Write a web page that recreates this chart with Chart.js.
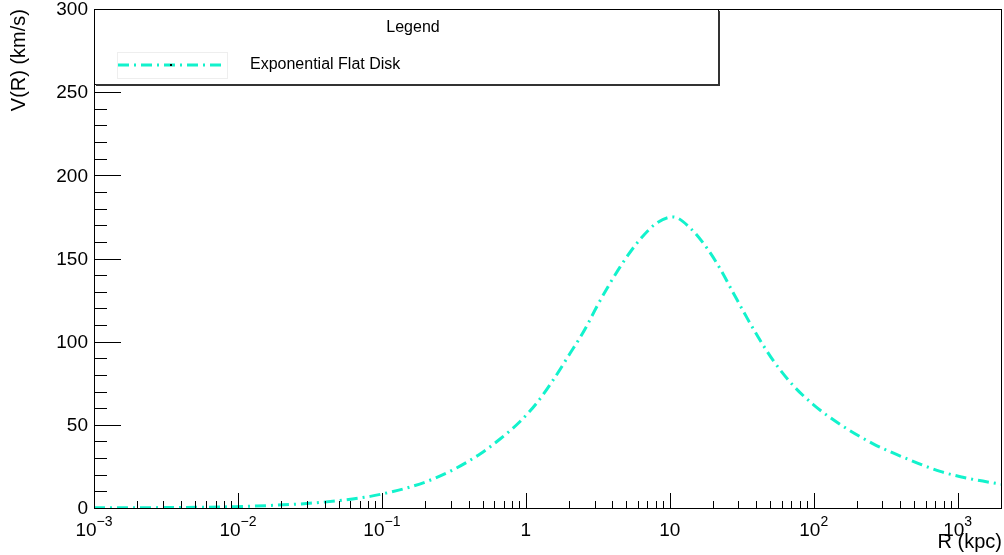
<!DOCTYPE html>
<html>
<head>
<meta charset="utf-8">
<script src="https://cdn.jsdelivr.net/npm/chart.js@4"></script>
<style>
  html, body { margin: 0; padding: 0; background: #ffffff; }
  #wrap { width: 1004px; height: 555px; }
</style>
</head>
<body>
<div id="wrap"><canvas id="c" width="1004" height="555"></canvas></div>
<script>
// Rotation curve of an exponential flat disk: radius R (kpc) and circular velocity V (km/s)
const radiusKpc = [0.001, 0.003, 0.0095, 0.0175, 0.030, 0.051, 0.083, 0.114, 0.157, 0.206,
  0.313, 0.481, 0.662, 0.912, 1.20, 1.55, 2.03, 2.38, 2.67, 3.13, 4.52, 6.22, 8.17, 10.5,
  13.8, 18.2, 22.4, 27.5, 34.4, 41.1, 52.4, 72.1, 99.3, 153, 259, 447, 757, 1282, 2000];
const velocityKms = [0.1, 0.25, 0.8, 1.6, 2.7, 4.5, 7.0, 9.5, 12.6, 16.0,
  23.0, 32.5, 41.5, 52.0, 63.5, 77.0, 93.0, 102.5, 110.0, 121.5, 145.0, 161.5, 171.5, 175.0,
  168.5, 156.0, 143.8, 129.6, 114.3, 102.8, 88.6, 73.6, 62.2, 50.2, 38.6, 29.5, 22.0, 17.2, 14.3];

const seriesName = 'Exponential Flat Disk';
const legendTitle = 'Legend';
const xTitle = 'R (kpc)';
const yTitle = 'V(R) (km/s)';
const yMajorTicks = [0, 50, 100, 150, 200, 250, 300];
const xDecades = [-3, -2, -1, 0, 1, 2, 3];

const lineColor = '#12f2cc';
const dashPattern = [11, 5, 2, 5];
const FONT = '"Liberation Sans", Arial, sans-serif';

const points = radiusKpc.map((r, i) => ({ x: r, y: velocityKms[i] }));

// Axes, frame, labels and legend drawn in ROOT style on top of the plot
const frameLayer = {
  id: 'frameLayer',
  afterDatasetsDraw(chart) {
    const ctx = chart.ctx;
    const xs = chart.scales.x, ys = chart.scales.y;
    const L = chart.chartArea.left, R = chart.chartArea.right;
    const T = chart.chartArea.top, B = chart.chartArea.bottom;
    ctx.save();
    ctx.strokeStyle = '#000';
    ctx.fillStyle = '#000';
    ctx.lineWidth = 1;

    // frame
    ctx.strokeRect(Math.round(L) + 0.5, Math.round(T) + 0.5, Math.round(R - L), Math.round(B - T));

    // y ticks: majors every 50, minors every 10, pointing inward
    ctx.beginPath();
    for (let v = 0; v <= 300; v += 10) {
      const py = Math.round(ys.getPixelForValue(v)) + 0.5;
      const len = (v % 50 === 0) ? 27 : 13;
      ctx.moveTo(L, py);
      ctx.lineTo(L + len, py);
    }
    // x ticks: decades and 2..9 minors
    const xmin = xs.min, xmax = xs.max;
    for (let d = -3; d <= 3; d++) {
      for (let m = 1; m <= 9; m++) {
        const v = m * Math.pow(10, d);
        if (v < xmin * 0.999 || v > xmax * 1.001) continue;
        const px = Math.round(xs.getPixelForValue(v)) + 0.5;
        const len = (m === 1) ? 15 : 7;
        ctx.moveTo(px, B);
        ctx.lineTo(px, B - len);
      }
    }
    ctx.stroke();

    // y tick labels
    ctx.font = '19px ' + FONT;
    ctx.textAlign = 'right';
    ctx.textBaseline = 'middle';
    yMajorTicks.forEach(v => {
      ctx.fillText(String(v), L - 6, ys.getPixelForValue(v) + 1);
    });

    // x tick labels with superscript exponents
    xDecades.forEach(d => {
      const px = xs.getPixelForValue(Math.pow(10, d));
      let base, sup = '';
      if (d === 0) base = '1';
      else if (d === 1) base = '10';
      else { base = '10'; sup = (d < 0 ? '\u2212' : '') + Math.abs(d); }
      ctx.font = '19px ' + FONT;
      const wb = ctx.measureText(base).width;
      ctx.font = '14px ' + FONT;
      const ws = sup ? ctx.measureText(sup).width : 0;
      const x0 = px - (wb + ws) / 2;
      ctx.textAlign = 'left';
      ctx.textBaseline = 'middle';
      ctx.font = '19px ' + FONT;
      ctx.fillText(base, x0, 531);
      if (sup) {
        ctx.font = '14px ' + FONT;
        ctx.fillText(sup, x0 + wb, 522);
      }
    });

    // axis titles
    ctx.font = '20px ' + FONT;
    ctx.textAlign = 'right';
    ctx.textBaseline = 'middle';
    ctx.fillText(xTitle, R + 1, 542);
    ctx.save();
    ctx.translate(19, T);
    ctx.rotate(-Math.PI / 2);
    ctx.fillText(yTitle, 0, 0);
    ctx.restore();

    // legend box
    const lx = L, ly = T, lw = 624, lh = 75;
    ctx.fillStyle = '#fff';
    ctx.fillRect(lx, ly, lw, lh);
    ctx.strokeStyle = '#000';
    ctx.lineWidth = 1;
    ctx.strokeRect(Math.round(lx) + 0.5, Math.round(ly) + 0.5, lw, lh);
    // shadow edges
    ctx.lineWidth = 2;
    ctx.strokeStyle = '#333';
    ctx.beginPath();
    ctx.moveTo(lx + lw + 1, ly + 2);
    ctx.lineTo(lx + lw + 1, ly + lh + 1);
    ctx.lineTo(lx + 2, ly + lh + 1);
    ctx.stroke();

    ctx.fillStyle = '#000';
    ctx.font = '16px ' + FONT;
    ctx.textAlign = 'center';
    ctx.textBaseline = 'middle';
    ctx.fillText(legendTitle, 413, 28);

    // legend sample
    ctx.strokeStyle = '#eeeeee';
    ctx.lineWidth = 1;
    ctx.strokeRect(117.5, 52.5, 110, 26);
    ctx.strokeStyle = lineColor;
    ctx.lineWidth = 3;
    ctx.setLineDash(dashPattern);
    ctx.beginPath();
    ctx.moveTo(118, 65);
    ctx.lineTo(224, 65);
    ctx.stroke();
    ctx.setLineDash([]);
    ctx.fillStyle = '#000';
    ctx.fillRect(170, 64, 2, 2);

    ctx.fillStyle = '#000';
    ctx.font = '16px ' + FONT;
    ctx.textAlign = 'left';
    ctx.fillText(seriesName, 250, 65);

    ctx.restore();
  }
};

new Chart(document.getElementById('c'), {
  type: 'line',
  data: {
    datasets: [{
      label: seriesName,
      data: points,
      borderColor: lineColor,
      borderWidth: 3,
      borderDash: dashPattern,
      pointRadius: 0,
      fill: false,
      cubicInterpolationMode: 'monotone'
    }]
  },
  options: {
    responsive: false,
    animation: false,
    devicePixelRatio: 1,
    layout: { padding: { left: 94, top: 9, right: 3, bottom: 47 } },
    plugins: { legend: { display: false }, tooltip: { enabled: false } },
    scales: {
      x: { type: 'logarithmic', min: 0.001, max: 2000, display: false },
      y: { type: 'linear', min: 0, max: 300, display: false }
    }
  },
  plugins: [frameLayer]
});
</script>
</body>
</html>
